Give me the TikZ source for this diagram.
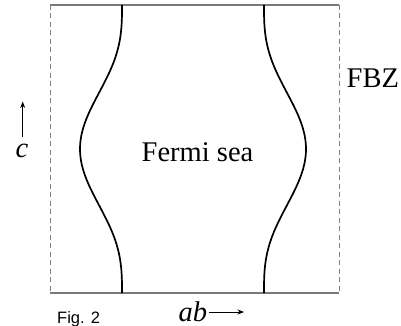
\documentclass[tikz,border=0pt]{standalone}
\usepackage{fontspec}
\setmainfont{Liberation Serif}
\newfontfamily\figfont{Liberation Sans}
\usetikzlibrary{arrows.meta}
\definecolor{boxgray}{HTML}{7A7A7A}
\definecolor{dashgray}{HTML}{808080}
\tikzset{
  boxline/.style={draw=boxgray, line width=1.1pt},
  sideline/.style={draw=dashgray, line width=1pt, dash pattern=on 5pt off 3.5pt},
  fermiline/.style={draw=black, line width=1.7pt},
  axisarrow/.style={draw=black, line width=0.8pt, -{Stealth[length=6.5pt,width=5pt]}},
  bigtext/.style={font=\fontsize{28.5}{30}\selectfont, inner sep=0pt, anchor=base},
}
\begin{document}
\begin{tikzpicture}[x=1pt,y=-1pt]
\useasboundingbox (0,0) rectangle (401,326);
% box corners
\coordinate (tl) at (50,5);
\coordinate (tr) at (339,5);
\coordinate (bl) at (50,293);
\coordinate (br) at (339,293);
\draw[boxline] (tl) -- (tr);
\draw[boxline] (bl) -- (br);
\draw[sideline] (tl) -- (bl);
\draw[sideline] (tr) -- (br);
% Fermi surface sheets
\draw[fermiline] plot[domain=5:293, samples=120, variable=\s]
  ({122-42*sin(0.625*(\s-5))*sin(0.625*(\s-5))*sin(0.625*(\s-5))}, {\s});
\draw[fermiline] plot[domain=5:293, samples=120, variable=\s]
  ({264+42*sin(0.625*(\s-5))*sin(0.625*(\s-5))*sin(0.625*(\s-5))}, {\s});
% labels
\node[bigtext] (sea) at (197.5,161.5) {Fermi sea};
\node[bigtext, anchor=base west] (fbz) at (346.5,88) {FBZ};
\node[bigtext] (c) at (22,157) {\textit{c}};
\node[bigtext, anchor=base west] (ab) at (178.5,321) {\textit{ab}};
\node[font=\figfont\fontsize{16.5}{18}\selectfont, inner sep=0pt, anchor=base west] (fig) at (57,323) {Fig. 2};
% axis arrows
\coordinate (cstart) at (22.7,137);
\coordinate (cend) at (22.7,101.5);
\draw[axisarrow] (cstart) -- (cend);
\coordinate (abstart) at (208.5,312);
\coordinate (abend) at (244,312);
\draw[axisarrow] (abstart) -- (abend);
\end{tikzpicture}
\end{document}
